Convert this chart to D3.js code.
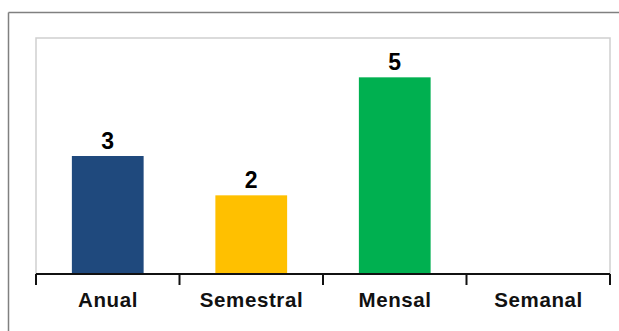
<!DOCTYPE html>
<html lang="pt">
<head>
    <meta charset="UTF-8">
    <title>Frequência</title>
    <script src="https://d3js.org/d3.v7.min.js"></script>
    <style>
        html, body {
            margin: 0;
            padding: 0;
            background: #fff;
        }
        text {
            font-family: "Liberation Sans", Arial, sans-serif;
            font-weight: bold;
        }
    </style>
</head>
<body>
    <div id="chart"></div>

    <script>
        const categories = ["Anual", "Semestral", "Mensal", "Semanal"];
        const values = [3, 2, 5, 0];
        const colors = ["#1F497D", "#FFC000", "#00B050", "#7F7F7F"];
        const yMax = 6;

        const width = 619, height = 331;
        const plot = { left: 36, right: 610, top: 38, bottom: 274 };

        const svg = d3.select("#chart")
            .append("svg")
            .attr("width", width)
            .attr("height", height);

        // outer frame (only top and left visible)
        svg.append("line")
            .attr("x1", 8.5).attr("x2", width)
            .attr("y1", 12.5).attr("y2", 12.5)
            .style("stroke", "#808080")
            .style("stroke-width", 1.5);
        svg.append("line")
            .attr("x1", 8.5).attr("x2", 8.5)
            .attr("y1", 12.5).attr("y2", height)
            .style("stroke", "#808080")
            .style("stroke-width", 1.5);

        // plot area border
        svg.append("rect")
            .attr("x", plot.left)
            .attr("y", plot.top)
            .attr("width", plot.right - plot.left)
            .attr("height", plot.bottom - plot.top)
            .style("fill", "none")
            .style("stroke", "#cfcfcf")
            .style("stroke-width", 1.5);

        var x = d3.scaleBand()
            .domain(categories)
            .range([plot.left, plot.right])
            .paddingInner(0.5)
            .paddingOuter(0.25);

        var y = d3.scaleLinear()
            .domain([0, yMax])
            .range([plot.bottom, plot.top]);

        var data = categories.map((c, i) => ({ cat: c, val: values[i], color: colors[i] }));

        svg.append("g")
            .selectAll("rect")
            .data(data.filter(d => d.val > 0))
            .enter().append("rect")
            .attr("x", d => x(d.cat))
            .attr("y", d => y(d.val))
            .attr("width", x.bandwidth())
            .attr("height", d => y(0) - y(d.val))
            .style("fill", d => d.color);

        // value labels
        svg.append("g")
            .selectAll("text")
            .data(data.filter(d => d.val > 0))
            .enter().append("text")
            .attr("x", d => x(d.cat) + x.bandwidth() / 2)
            .attr("y", d => y(d.val) - 7.5)
            .attr("text-anchor", "middle")
            .style("font-size", "23px")
            .style("fill", "#000")
            .text(d => d.val);

        // x axis with boundary ticks
        var step = x.step();
        var edges = d3.range(categories.length + 1).map(i => plot.left + i * step);

        var axis = svg.append("g").attr("class", "axis");
        axis.append("line")
            .attr("x1", plot.left).attr("x2", plot.right)
            .attr("y1", y(0)).attr("y2", y(0))
            .style("stroke", "#111")
            .style("stroke-width", 2);
        axis.selectAll("line.tick")
            .data(edges)
            .enter().append("line")
            .attr("class", "tick")
            .attr("x1", d => d).attr("x2", d => d)
            .attr("y1", y(0)).attr("y2", y(0) + 11)
            .style("stroke", "#111")
            .style("stroke-width", 2);

        axis.selectAll("text")
            .data(categories)
            .enter().append("text")
            .attr("x", d => x(d) + x.bandwidth() / 2 + 0.3)
            .attr("y", 307)
            .attr("text-anchor", "middle")
            .style("font-size", "20.5px")
            .style("letter-spacing", "0.6px")
            .style("fill", "#111")
            .text(d => d);
    </script>
</body>
</html>
